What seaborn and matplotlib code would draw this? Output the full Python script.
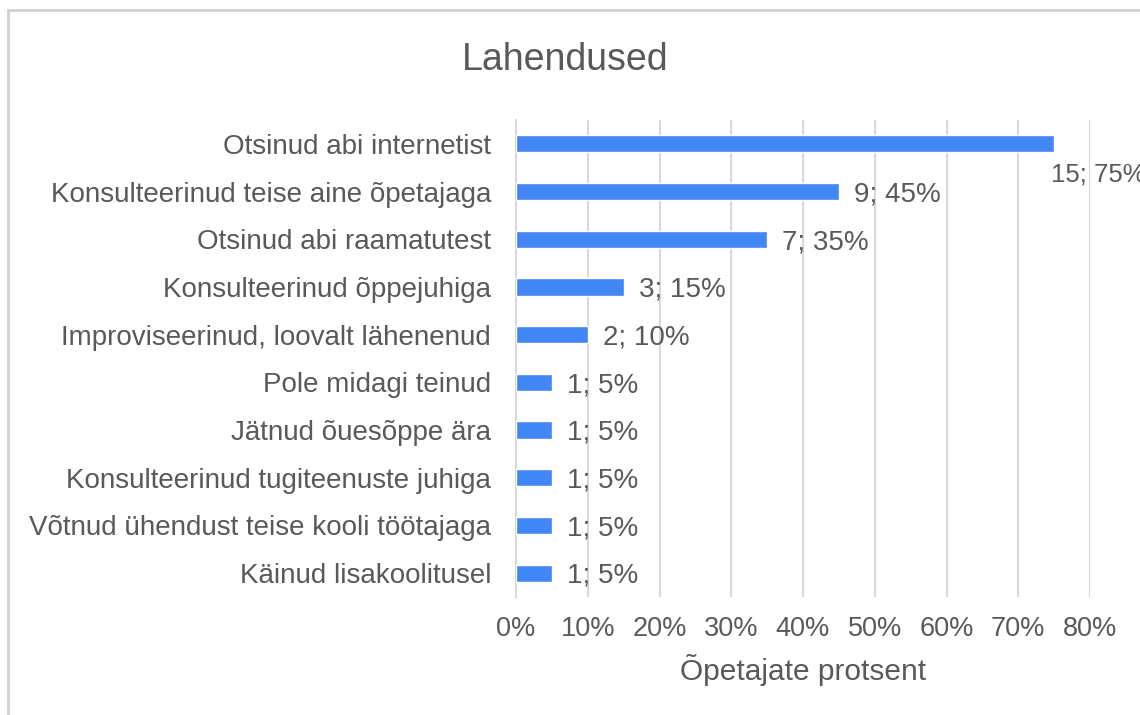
import matplotlib
matplotlib.use("Agg")
import matplotlib.pyplot as plt
from matplotlib.lines import Line2D
import seaborn as sns
import pandas as pd

# data (20 teachers)
categories = [
    "Otsinud abi internetist",
    "Konsulteerinud teise aine õpetajaga",
    "Otsinud abi raamatutest",
    "Konsulteerinud õppejuhiga",
    "Improviseerinud, loovalt lähenenud",
    "Pole midagi teinud",
    "Jätnud õuesõppe ära",
    "Konsulteerinud tugiteenuste juhiga",
    "Võtnud ühendust teise kooli töötajaga",
    "Käinud lisakoolitusel",
]
counts = [15, 9, 7, 3, 2, 1, 1, 1, 1, 1]
percents = [75, 45, 35, 15, 10, 5, 5, 5, 5, 5]
x_ticks = [0, 10, 20, 30, 40, 50, 60, 70, 80]

df = pd.DataFrame({"kategooria": categories, "protsent": percents, "arv": counts})

sns.set_theme(style="white")
plt.rcParams["font.family"] = ["Liberation Sans", "DejaVu Sans"]

TEXT = "#595959"
BLUE = "#4285f4"
GRID = "#d9d9d9"

fig = plt.figure(figsize=(11.4, 7.15), dpi=100)
ax = fig.add_axes([516 / 1140, 1 - 597 / 715, (1090 - 516) / 1140, (597 - 120) / 715])

sns.barplot(data=df, y="kategooria", x="protsent", orient="h", color=BLUE,
            width=0.36, saturation=1, ax=ax, zorder=3)

ax.set_xlim(0, 80)
ax.set_xticks(x_ticks)
ax.set_xticklabels([f"{t}%" for t in x_ticks])
ax.xaxis.grid(True, color=GRID, linewidth=1.5, zorder=0)
ax.yaxis.grid(False)
for side in ["top", "right", "bottom"]:
    ax.spines[side].set_visible(False)
ax.spines["left"].set_color(GRID)
ax.spines["left"].set_linewidth(1.5)
ax.tick_params(axis="y", length=0, colors=TEXT, labelsize=20, pad=18)
ax.tick_params(axis="x", length=0, colors=TEXT, labelsize=19.5, pad=14)
ax.set_ylabel("")
ax.set_xlabel("Õpetajate protsent", fontsize=21.5, color=TEXT, labelpad=8)

# value labels "n; p%"; the long bar gets its label tucked below the bar end
for i, (n, p) in enumerate(zip(counts, percents)):
    if p >= 70:
        ax.annotate(f"{n}; {p}%", xy=(p, i), xytext=(-2, -22), textcoords="offset points",
                    ha="left", va="center", fontsize=18.5, color=TEXT, annotation_clip=False)
    else:
        ax.annotate(f"{n}; {p}%", xy=(p, i), xytext=(11, -2), textcoords="offset points",
                    ha="left", va="center", fontsize=20, color=TEXT)

fig.suptitle("Lahendused", x=565 / 1140, y=1 - 60 / 715, va="center",
             fontsize=27, color=TEXT)

# chart frame (left and top edges visible)
fig.add_artist(Line2D([8 / 1140, 8 / 1140], [0, 1 - 10 / 715], color="#d0d0d0", linewidth=2,
                      transform=fig.transFigure))
fig.add_artist(Line2D([8 / 1140, 1], [1 - 10 / 715, 1 - 10 / 715], color="#d0d0d0", linewidth=2,
                      transform=fig.transFigure))

fig.savefig("out.png", dpi=100)
